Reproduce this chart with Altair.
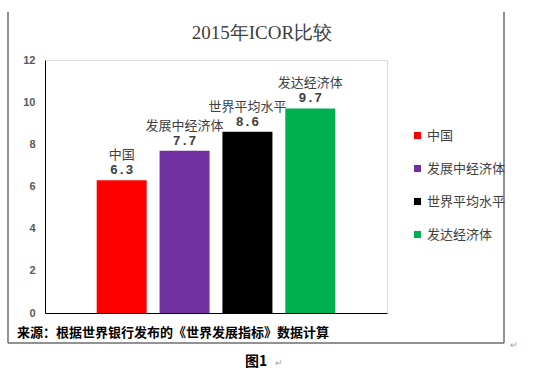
import altair as alt
import pandas as pd

categories = ["中国", "发展中经济体", "世界平均水平", "发达经济体"]
values = [6.3, 7.7, 8.6, 9.7]
colors = ["#FF0000", "#7030A0", "#000000", "#00B050"]
y_ticks = [0, 2, 4, 6, 8, 10, 12]
title_text = "2015年ICOR比较"
source_text = "来源：根据世界银行发布的《世界发展指标》数据计算"
caption_text = "图1"

df = pd.DataFrame({"cat": categories, "val": values,
                   "lab": [f"{v:.1f}" for v in values]})

x_enc = alt.X("cat:N", sort=categories,
              scale=alt.Scale(paddingInner=0.2, paddingOuter=0.82),
              axis=alt.Axis(title=None, labels=False, ticks=False, domainColor="#000000",
                            domainWidth=1))
y_scale = alt.Scale(domain=[0, 12], nice=False)

base = alt.Chart(df)

bars = base.mark_bar(size=50).encode(
    x=x_enc,
    y=alt.Y("val:Q", scale=y_scale,
            axis=alt.Axis(title=None, values=y_ticks, grid=False, ticks=False,
                          domainColor="#000000", domainWidth=1, labelColor="#595959",
                          labelFont="Liberation Sans", labelFontWeight="bold",
                          labelFontSize=11, labelPadding=10)),
    color=alt.Color("cat:N", sort=categories,
                    scale=alt.Scale(domain=categories, range=colors),
                    legend=alt.Legend(title=None, orient="none", legendX=366, legendY=69,
                                      symbolType="square", symbolSize=50,
                                      symbolStrokeWidth=0, labelFontSize=13,
                                      labelFont="Noto Sans CJK SC", labelColor="#404040",
                                      labelOffset=3, rowPadding=19)),
)

names = base.mark_text(dy=-21, baseline="alphabetic", fontSize=13,
                       font="Noto Sans CJK SC", color="#404040").encode(
    x=alt.X("cat:N", sort=categories), y=alt.Y("val:Q", scale=y_scale), text="cat:N")
nums = base.mark_text(dy=-6, baseline="alphabetic", fontSize=13, fontWeight="bold",
                      font="Liberation Mono", color="#404040").encode(
    x=alt.X("cat:N", sort=categories), y=alt.Y("val:Q", scale=y_scale), text="lab:N")

title = alt.Chart(pd.DataFrame({"t": [title_text]})).mark_text(
    fontSize=19, font="Liberation Serif", color="#404040", baseline="middle").encode(
    x=alt.value(217), y=alt.value(-27), text="t:N")

source = alt.Chart(pd.DataFrame({"t": [source_text]})).mark_text(
    fontSize=13, font="Noto Sans CJK SC", fontWeight="bold", color="#000000",
    align="left", baseline="middle").encode(
    x=alt.value(-28), y=alt.value(273), text="t:N")

caption = alt.Chart(pd.DataFrame({"t": [caption_text]})).mark_text(
    fontSize=14, font="Noto Sans CJK SC", fontWeight="bold", color="#000000",
    align="left", baseline="middle").encode(
    x=alt.value(200), y=alt.value(302), text="t:N")

ret_marks = alt.Chart(pd.DataFrame({"t": ["↵", "↵"], "x": [230, 465], "y": [303, 285]})).mark_text(
    fontSize=9, color="#a0a0a0", align="left", baseline="middle").encode(
    x=alt.X("x:Q", scale=None), y=alt.Y("y:Q", scale=None), text="t:N")

frame_v = alt.Chart(pd.DataFrame({"x": [-37, 459]})).mark_rule(
    color="#6e6e6e", strokeWidth=1.5).encode(
    x=alt.X("x:Q", scale=None), y=alt.value(-48), y2=alt.value(283))
frame_h = alt.Chart(pd.DataFrame({"a": [0]})).mark_rule(
    color="#6e6e6e", strokeWidth=1.5).encode(
    x=alt.value(-37), x2=alt.value(459), y=alt.value(283))

chart = alt.layer(bars, names, nums, title, source, caption, ret_marks, frame_v, frame_h).properties(
    width=342, height=253,
    autosize=alt.AutoSizeParams(type="none"),
    padding={"left": 45, "top": 60, "right": 163, "bottom": 64},
).configure_view(stroke=None).configure(background="white")

chart.save("out.html", embed_options={"renderer": "svg", "actions": False})
